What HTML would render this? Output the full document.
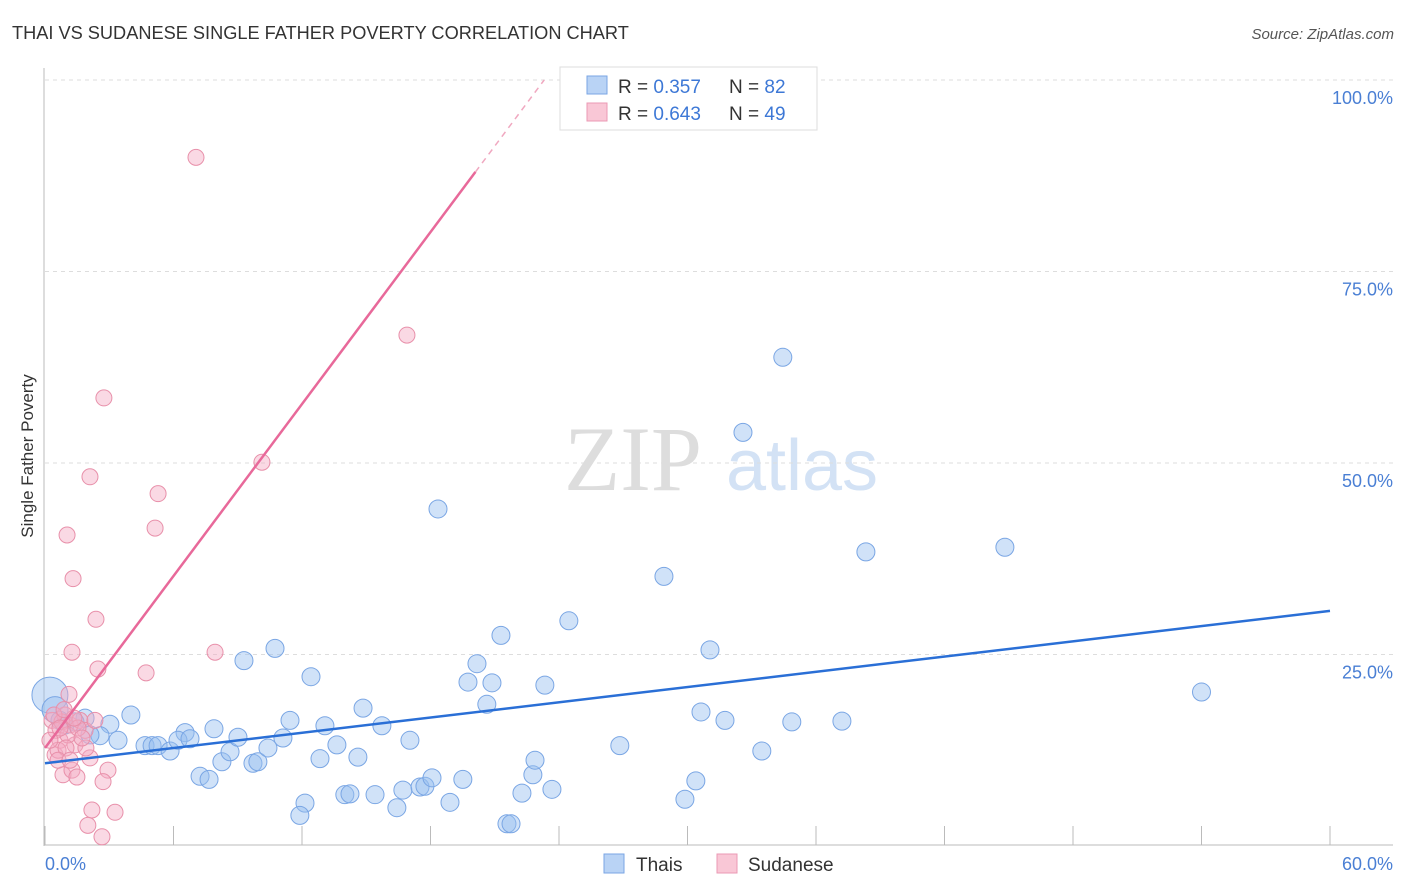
<!DOCTYPE html>
<html><head><meta charset="utf-8"><style>
body{margin:0;background:#fff;font-family:"Liberation Sans",sans-serif}
</style></head><body>
<svg id="c" width="1406" height="892" xmlns="http://www.w3.org/2000/svg" style="display:block">
<text x="12" y="39" font-size="18.2" fill="#333">THAI VS SUDANESE SINGLE FATHER POVERTY CORRELATION CHART</text>
<text x="1394" y="39" font-size="15" fill="#555" text-anchor="end" font-style="italic">Source: ZipAtlas.com</text>
<text x="33" y="456" font-size="17" fill="#333" text-anchor="middle" transform="rotate(-90 33 456)">Single Father Poverty</text>
<g>
<text x="633" y="490" font-size="92" fill="#ddd" text-anchor="middle" font-family="Liberation Serif,serif">ZIP</text>
<text x="802" y="490" font-size="72" fill="#d3e2f5" text-anchor="middle">atlas</text>
</g>
<g id="grid"></g><g id="axes"></g><g id="pts"></g><g id="lines"></g>
<g>
<rect x="560" y="67" width="257" height="63" fill="#fff" stroke="#ddd"/>
<rect x="587" y="76" width="20" height="18" fill="#b9d3f5" stroke="#7aa6e4"/>
<rect x="587" y="103" width="20" height="18" fill="#f9c7d6" stroke="#eb9ab4"/>
<text x="618" y="93" font-size="19" fill="#333">R = <tspan fill="#3d78d6">0.357</tspan></text>
<text x="729" y="93" font-size="19" fill="#333">N = <tspan fill="#3d78d6">82</tspan></text>
<text x="618" y="120" font-size="19" fill="#333">R = <tspan fill="#3d78d6">0.643</tspan></text>
<text x="729" y="120" font-size="19" fill="#333">N = <tspan fill="#3d78d6">49</tspan></text>
</g>
<g>
<rect x="604" y="854" width="20" height="19" fill="#b9d3f5" stroke="#7aa6e4"/>
<text x="636" y="871" font-size="19" fill="#333">Thais</text>
<rect x="717" y="854" width="20" height="19" fill="#f9c7d6" stroke="#eb9ab4"/>
<text x="748" y="871" font-size="19" fill="#333">Sudanese</text>
</g>
</svg>
<script>
const yTicks=[25,50,75,100];
const yTickLabels=["25.0%","50.0%","75.0%","100.0%"];
const xTicks=[0,6,12,18,24,30,36,42,48,54,60];
const thaiX=[0.23,0.47,1.87,1.40,3.03,2.57,3.41,4.01,4.67,5.0,5.28,5.84,6.54,6.21,6.77,7.24,7.66,7.89,8.26,8.64,9.01,9.29,9.71,9.94,10.41,10.74,11.11,11.44,12.14,11.9,12.42,12.84,13.07,13.63,14.0,14.24,14.61,14.85,15.41,15.73,16.43,16.71,17.04,17.51,17.74,18.07,18.35,18.91,19.51,19.75,20.17,20.63,20.87,21.29,21.57,21.76,22.27,22.78,22.88,23.34,23.67,24.46,26.84,28.9,29.88,30.39,30.63,31.05,31.75,32.59,33.47,34.45,34.87,37.21,38.33,44.82,54.0,0.93,2.1,0.7];
const thaiY=[19.7,17.8,16.7,16.2,15.9,14.4,13.8,17.1,13.1,13.1,13.1,12.4,14.8,13.8,14.0,9.1,8.7,15.3,11.0,12.3,14.2,24.2,10.8,11.0,12.8,25.8,14.1,16.4,5.6,4.0,22.1,11.4,15.7,13.2,6.7,6.8,11.6,18.0,6.7,15.7,5.0,7.3,13.8,7.7,7.8,8.9,44.0,5.7,8.7,21.4,23.8,18.5,21.3,27.5,2.9,2.9,6.9,9.3,11.2,21.0,7.4,29.4,13.1,35.2,6.1,8.5,17.5,25.6,16.4,54.0,12.4,63.8,16.2,16.3,38.4,39.0,20.1,15.8,14.5,16.4];
const sudX=[7.05,16.9,2.75,2.1,5.28,10.13,5.14,1.03,1.31,2.38,1.26,7.94,2.47,4.72,1.12,0.33,0.51,0.7,0.93,1.17,1.4,1.63,1.87,0.47,0.61,0.84,1.26,1.49,2.94,2.71,2.1,2.19,3.27,2.0,2.66,0.79,1.07,1.54,0.23,0.42,0.98,1.91,0.7,1.35,1.73,2.33,0.61,1.17,0.89];
const sudY=[89.9,66.7,58.5,48.2,46.0,50.1,41.5,40.6,34.9,29.6,25.3,25.3,23.1,22.6,19.8,16.4,15.1,13.8,17.1,15.8,13.2,16.4,15.1,11.9,12.5,9.3,9.9,9.0,9.9,8.4,11.5,4.7,4.4,2.7,1.2,16.2,14.5,15.4,13.8,17.1,12.8,12.8,15.4,16.7,14.1,16.4,11.2,11.2,17.8];
const thaiTrend=[10.8,30.7];
const sudTrend=[12.8,88.0];
const X=v=>45+v*1285/60, Y=v=>846-v*7.66;
const NS="http://www.w3.org/2000/svg";
function mk(t,a,p){const e=document.createElementNS(NS,t);for(const k in a)e.setAttribute(k,a[k]);p.appendChild(e);return e;}
const grid=document.getElementById('grid'),axes=document.getElementById('axes'),pts=document.getElementById('pts'),lines=document.getElementById('lines');
yTicks.forEach((t,i)=>{
 const g=mk('line',{x1:45,x2:1393,y1:Y(t),y2:Y(t),stroke:'#ddd','stroke-dasharray':'4,4'},grid);
 
 
 const l=mk('text',{x:1393,y:Y(t)+24,'font-size':18,fill:'#4a7fd4','text-anchor':'end'},axes);
 l.textContent=yTickLabels[i];
 
 
});
mk('line',{x1:44,x2:44,y1:68,y2:846,stroke:'#bbb'},axes);
mk('line',{x1:44,x2:1393,y1:845,y2:845,stroke:'#bbb'},axes);
xTicks.forEach(t=>{const e=mk('line',{x1:X(t),x2:X(t),y1:826,y2:845,stroke:'#bbb'},axes);
 
 });
const xl0=mk('text',{x:45,y:870,'font-size':18,fill:'#4a7fd4'},axes);xl0.textContent='0.0%';


const xl1=mk('text',{x:1393,y:870,'font-size':18,fill:'#4a7fd4','text-anchor':'end'},axes);xl1.textContent='60.0%';


thaiX.forEach((x,i)=>{const r=i==0?18:(i==1?13:9);
 const c=mk('circle',{cx:X(x),cy:Y(thaiY[i]),r:r,fill:'rgba(150,190,240,0.45)',stroke:'#7aa6e4','stroke-width':1},pts);
 
 });
sudX.forEach((x,i)=>{
 const c=mk('circle',{cx:X(x),cy:Y(sudY[i]),r:8,fill:'rgba(245,170,195,0.45)',stroke:'#e890aa','stroke-width':1},pts);
 
 });
const bl=mk('line',{x1:X(0),y1:Y(thaiTrend[0]),x2:X(60),y2:Y(thaiTrend[1]),stroke:'#2a6fd6','stroke-width':2.5},lines);


const sl=(sudTrend[1]-sudTrend[0])/20.1;
const pl=mk('line',{x1:X(0),y1:Y(sudTrend[0]),x2:X(20.1),y2:Y(sudTrend[1]),stroke:'#e8699a','stroke-width':2.5},lines);


const xe=(100-sudTrend[0])/sl;
const pd=mk('line',{x1:X(20.1),y1:Y(sudTrend[1]),x2:X(xe),y2:Y(100),stroke:'#f0a8c0','stroke-width':1.5,'stroke-dasharray':'6,5'},lines);


</script>
</body></html>
